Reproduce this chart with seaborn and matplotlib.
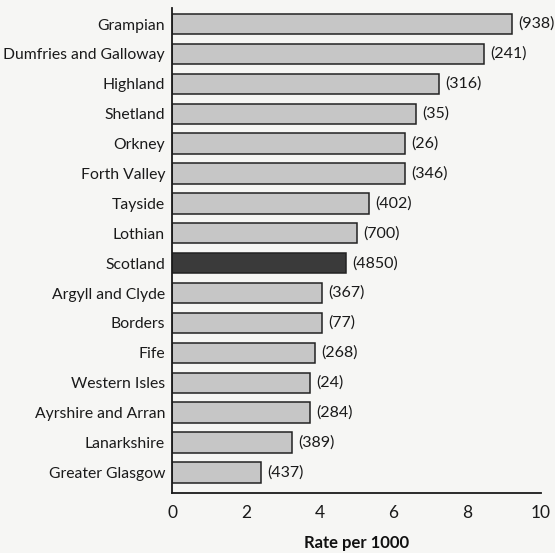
import seaborn as sns
import matplotlib.pyplot as plt
import pandas as pd

# Health board rates (per 1000) with case counts
boards = ["Grampian", "Dumfries and Galloway", "Highland", "Shetland", "Orkney",
          "Forth Valley", "Tayside", "Lothian", "Scotland", "Argyll and Clyde",
          "Borders", "Fife", "Western Isles", "Ayrshire and Arran", "Lanarkshire",
          "Greater Glasgow"]
rates = [9.21, 8.44, 7.24, 6.61, 6.32, 6.32, 5.34, 5.01, 4.72, 4.05, 4.05,
         3.86, 3.74, 3.74, 3.24, 2.42]
counts = [938, 241, 316, 35, 26, 346, 402, 700, 4850, 367, 77, 268, 24, 284, 389, 437]

df = pd.DataFrame({"board": boards, "rate": rates, "n": counts})
colors = {b: ("#3a3a3a" if b == "Scotland" else "#c6c6c6") for b in boards}

sns.set_style("white")
plt.rcParams["font.family"] = ["Lato", "DejaVu Sans"]

fig = plt.figure(figsize=(5.55, 5.53), dpi=100, facecolor="#f6f6f4")
ax = fig.add_axes([0.310, 0.1085, 0.665, 0.877])
ax.set_facecolor("#f6f6f4")

sns.barplot(data=df, x="rate", y="board", hue="board", palette=colors,
            legend=False, width=0.68, edgecolor="#222222", linewidth=1.1,
            orient="h", ax=ax)

for i, (r, n) in enumerate(zip(rates, counts)):
    ax.text(r + 0.17, i, f"({n})", va="center", ha="left", fontsize=11.5, color="#1a1a1a")

ax.set_xlim(0, 10)
ax.set_ylim(15.69, -0.535)
ax.set_xticks([0, 2, 4, 6, 8, 10])
ax.tick_params(axis="x", direction="out", length=7, width=1.2, labelsize=12.5,
               colors="#1a1a1a", pad=2)
ax.tick_params(axis="y", length=0, labelsize=11.3, colors="#1a1a1a", pad=5)
for s in ["top", "right"]:
    ax.spines[s].set_visible(False)
for s in ["left", "bottom"]:
    ax.spines[s].set_linewidth(1.3)
    ax.spines[s].set_color("#1a1a1a")

ax.set_ylabel("")
ax.set_xlabel("Rate per 1000", fontsize=12, fontweight="bold", labelpad=10,
              color="#111111")

plt.savefig("out.png", dpi=100, facecolor=fig.get_facecolor())
